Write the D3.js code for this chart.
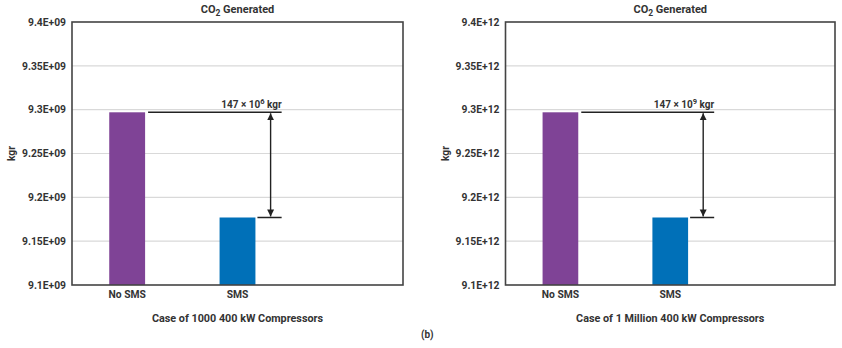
<!DOCTYPE html>
<html><head><meta charset="utf-8">
<script src="https://cdn.jsdelivr.net/npm/d3@7"></script>
<style>
html,body{margin:0;padding:0;background:#fff;}
text{font-family:Roboto,"Noto Sans",sans-serif;font-weight:700;fill:#333;}
</style></head>
<body>
<svg id="c" width="842" height="348"></svg>
<script>
const categories = ["No SMS", "SMS"];
const slots = ["No SMS", "SMS", "(blank)"];
const valuesLeft = [9.297e9, 9.177e9];
const valuesRight = [9.297e12, 9.177e12];
const tickValuesLeft = [9.1e9, 9.15e9, 9.2e9, 9.25e9, 9.3e9, 9.35e9, 9.4e9];
const tickLabelsLeft = ["9.1E+09", "9.15E+09", "9.2E+09", "9.25E+09", "9.3E+09", "9.35E+09", "9.4E+09"];
const tickValuesRight = [9.1e12, 9.15e12, 9.2e12, 9.25e12, 9.3e12, 9.35e12, 9.4e12];
const tickLabelsRight = ["9.1E+12", "9.15E+12", "9.2E+12", "9.25E+12", "9.3E+12", "9.35E+12", "9.4E+12"];
const barColors = ["#7f4396", "#0070b8"];
const xTitles = ["Case of 1000 400 kW Compressors", "Case of 1 Million 400 kW Compressors"];
const annExponents = ["6", "9"];

const svg = d3.select("#c");
const defs = svg.append("defs");
["s", "e"].forEach(id => {
  defs.append("marker").attr("id", "arr" + id)
    .attr("viewBox", "0 0 10 10").attr("refX", 10).attr("refY", 5)
    .attr("markerWidth", 7).attr("markerHeight", 11).attr("markerUnits", "userSpaceOnUse")
    .attr("orient", id === "s" ? "auto-start-reverse" : "auto")
    .append("path").attr("d", "M0,0 L10,5 L0,10 Z").attr("fill", "#222");
});

function drawChart(left, right, values, tickValues, tickLabels, xTitle, exp) {
  const top = 22, bottom = 285;
  const y = d3.scaleLinear().domain([tickValues[0], tickValues[tickValues.length - 1]]).range([bottom, top]);
  const x = d3.scaleBand().domain(slots).range([left, right]).padding(0);
  const bw = x.bandwidth() * 0.325;
  const g = svg.append("g");

  g.selectAll("line.grid").data(tickValues.slice(1, -1)).join("line")
    .attr("x1", left).attr("x2", right)
    .attr("y1", d => y(d)).attr("y2", d => y(d))
    .attr("stroke", "#d9d9d9").attr("stroke-width", 1.2);

  const yAxis = d3.axisLeft(y).tickValues(tickValues)
    .tickFormat((d, i) => tickLabels[i]).tickSize(0).tickPadding(6);
  const ya = g.append("g").attr("transform", `translate(${left},0)`).call(yAxis);
  ya.select(".domain").remove();
  ya.selectAll("text").attr("font-size", 10.3).attr("fill", "#333")
    .style("font-family", "Roboto, sans-serif").style("font-weight", 700);

  g.selectAll("rect.bar").data(categories).join("rect")
    .attr("x", d => x(d) + x.bandwidth() / 2 - bw / 2)
    .attr("width", bw)
    .attr("y", (d, i) => y(values[i]))
    .attr("height", (d, i) => bottom - y(values[i]))
    .attr("fill", (d, i) => barColors[i]);

  g.append("rect").attr("x", left).attr("y", top).attr("width", right - left).attr("height", bottom - top)
    .attr("fill", "none").attr("stroke", "#444").attr("stroke-width", 1.6);

  const xAxis = d3.axisBottom(x).tickValues(categories).tickSize(0).tickPadding(6);
  const xa = g.append("g").attr("transform", `translate(0,${bottom})`).call(xAxis);
  xa.select(".domain").remove();
  xa.selectAll("text").attr("font-size", 10.3).attr("fill", "#333")
    .style("font-family", "Roboto, sans-serif").style("font-weight", 700);

  const cx = (left + right) / 2;
  const t = g.append("text").attr("x", cx).attr("y", 13).attr("text-anchor", "middle").attr("font-size", 11);
  t.append("tspan").text("CO");
  t.append("tspan").attr("font-size", 8.5).attr("dy", 3).text("2");
  t.append("tspan").attr("dy", -3).text(" Generated");

  g.append("text").attr("transform", `translate(${left - 57},${(top + bottom) / 2}) rotate(-90)`)
    .attr("text-anchor", "middle").attr("font-size", 10.3).text("kgr");

  g.append("text").attr("x", cx).attr("y", 322).attr("text-anchor", "middle").attr("font-size", 10.8).text(xTitle);

  const xs = x("SMS");
  const lineEnd = xs + x.bandwidth() * 0.9;
  const arrowX = xs + x.bandwidth() * 0.8;
  const y0 = y(values[0]), y1 = y(values[1]);
  g.append("line").attr("x1", x("No SMS") + x.bandwidth() / 2 + bw / 2 + 3).attr("x2", lineEnd)
    .attr("y1", y0).attr("y2", y0).attr("stroke", "#222").attr("stroke-width", 1.5);
  g.append("line").attr("x1", x("SMS") + x.bandwidth() / 2 + bw / 2 + 2).attr("x2", lineEnd)
    .attr("y1", y1).attr("y2", y1).attr("stroke", "#222").attr("stroke-width", 1.5);
  g.append("line").attr("x1", arrowX).attr("x2", arrowX)
    .attr("y1", y0 + 1).attr("y2", y1 - 1)
    .attr("stroke", "#222").attr("stroke-width", 1.4)
    .attr("marker-start", "url(#arrs)").attr("marker-end", "url(#arre)");
  const at = g.append("text").attr("x", lineEnd).attr("y", y0 - 4).attr("text-anchor", "end").attr("font-size", 10);
  at.append("tspan").text("147 × 10");
  at.append("tspan").attr("font-size", 7.5).attr("dy", -4).text(exp);
  at.append("tspan").attr("dy", 4).text(" kgr");
}

drawChart(72, 403, valuesLeft, tickValuesLeft, tickLabelsLeft, xTitles[0], annExponents[0]);
drawChart(505.5, 835, valuesRight, tickValuesRight, tickLabelsRight, xTitles[1], annExponents[1]);

svg.append("text").attr("x", 421).attr("y", 338).attr("font-size", 10).text("(b)");
</script>
</body></html>
